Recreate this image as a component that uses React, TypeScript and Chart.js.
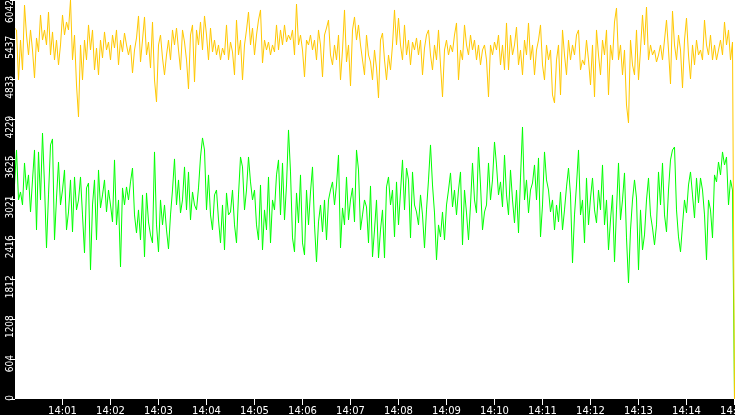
import React, { useEffect, useRef } from 'react';
import { Chart, registerables } from 'chart.js';

Chart.register(...registerables);

// sampling interval of the series (seconds after 14:00:00)
const SAMPLE_SECONDS = 2.5;

const xTickSeconds = [60, 120, 180, 240, 300, 360, 420, 480, 540, 600, 660, 720, 780, 840, 900];
const xTickLabels = ['14:01', '14:02', '14:03', '14:04', '14:05', '14:06', '14:07', '14:08', '14:09', '14:10', '14:11', '14:12', '14:13', '14:14', '14:15'];

const yTickValues = [0, 604.2, 1208.4, 1812.6, 2416.8, 3021, 3625.2, 4229.4, 4833.6, 5437.8, 6042];
const yTickLabels = ['0', '604', '1208', '1812', '2416', '3021', '3625', '4229', '4833', '5437', '6042'];

const yellowValues = [
  5618, 5588, 4831, 5436, 4982, 5966, 5512, 5209, 5588, 5285,
  4861, 5467, 5255, 5815, 5436, 5588, 5361, 5860, 5209, 5558,
  5134, 5436, 5058, 5361, 5815, 5512, 5709, 5588, 6042, 5134,
  5512, 4755, 4271, 5361, 4831, 5436, 5134, 5664, 5285, 5588,
  4982, 5315, 4907, 5436, 5164, 5558, 5285, 5406, 5134, 5512,
  5315, 5588, 5058, 5436, 5255, 5542, 5361, 5209, 5361, 4937,
  5285, 5467, 5800, 5103, 5436, 5785, 5209, 5406, 5012, 5709,
  4831, 4498, 5361, 5512, 5164, 4907, 5209, 5436, 5134, 5588,
  5361, 5618, 5285, 4982, 5588, 5406, 5134, 4695, 5512, 5664,
  4801, 5588, 5361, 5709, 5285, 5800, 5512, 5134, 5618, 5255,
  5436, 5209, 5361, 5134, 5315, 5209, 5664, 5134, 5406, 5255,
  4907, 5739, 5209, 5436, 4831, 5361, 5588, 5860, 5361, 5618,
  5209, 5512, 5739, 5891, 5088, 5436, 5285, 5406, 5209, 5361,
  5255, 5664, 5285, 5588, 5361, 5664, 5406, 5512, 5436, 5588,
  5209, 5981, 5361, 5512, 5285, 4876, 5436, 5361, 5512, 5285,
  5436, 5134, 5588, 5361, 4876, 5512, 5618, 5739, 5209, 5058,
  5361, 5134, 5512, 4831, 5285, 5891, 5103, 5361, 4740, 5588,
  5785, 5436, 5664, 5361, 5134, 4907, 5512, 5209, 5103, 4831,
  5285, 5012, 4558, 5436, 5542, 5134, 4831, 5209, 4982, 5361,
  5891, 5361, 5769, 5361, 5134, 5664, 5209, 5436, 5058, 5406,
  5285, 5467, 5209, 5436, 4907, 5315, 5512, 5588, 5209, 4982,
  5361, 5134, 5588, 5058, 4573, 5285, 5436, 5209, 5361, 5255,
  5512, 5694, 4831, 5285, 5134, 5664, 5361, 5209, 5512, 5285,
  5436, 5134, 5361, 5058, 5285, 5361, 5134, 4573, 5361, 5209,
  5406, 5285, 5512, 5058, 5361, 4982, 5694, 4982, 5512, 5209,
  5361, 5633, 5058, 5285, 4907, 5436, 5209, 5694, 5134, 5361,
  4907, 5285, 5436, 5664, 5058, 4831, 5361, 5134, 5285, 4604,
  4483, 5134, 5361, 4604, 5588, 5209, 4907, 5436, 5134, 5361,
  5209, 5512, 5588, 4982, 5134, 5058, 5436, 5134, 4755, 5361,
  4573, 5588, 5209, 4907, 5436, 5209, 5588, 4604, 5361, 5134,
  5709, 5921, 5134, 5361, 4907, 5285, 4452, 4180, 5436, 5058,
  4907, 5588, 4831, 5285, 5815, 5361, 5936, 5134, 5361, 5209,
  5285, 5103, 5209, 5361, 5134, 5436, 5739, 5285, 4770, 5875,
  5361, 5134, 5512, 5285, 4710, 5436, 5769, 5209, 4846, 5361,
  5058, 5436, 5209, 5285, 5134, 5739, 5361, 5209, 5512, 5134,
  5361, 5134, 5285, 5436, 5209, 5709, 5361, 5588, 5134, 5406,
  0,
];

const greenValues = [
  3241, 3771, 3014, 3135, 2938, 3574, 3165, 3393, 2832, 3317,
  3771, 2560, 3741, 3014, 4028, 3241, 2287, 3090, 3847, 3938,
  2408, 3044, 3589, 2938, 3165, 3468, 2560, 2832, 3317, 2530,
  3362, 2863, 3014, 3362, 2787, 2212, 3196, 3271, 1954, 2938,
  3317, 2408, 3468, 2893, 3090, 3317, 2832, 3165, 2938, 2681,
  3620, 2636, 3014, 2000, 3196, 2938, 3211, 3014, 3287, 3498,
  2787, 2514, 2863, 2408, 3090, 2151, 3120, 2681, 2484, 2363,
  3741, 2636, 2227, 3014, 2636, 2938, 2560, 2272, 2787, 3165,
  3635, 2938, 3317, 2817, 3014, 3514, 2863, 3438, 2711, 3135,
  2938, 2863, 3196, 3665, 3953, 3771, 2863, 3393, 2787, 2560,
  3090, 3165, 2711, 2363, 2938, 2257, 3120, 2787, 2832, 3165,
  2636, 2363, 3090, 3665, 3514, 2863, 3165, 3665, 3287, 3014,
  3165, 2636, 2408, 3241, 2257, 2863, 2560, 3362, 2363, 3014,
  2863, 3393, 3620, 2787, 3574, 2711, 3241, 4074, 3438, 2439,
  2227, 3120, 2666, 3393, 2363, 2181, 3165, 2636, 3135, 3514,
  2636, 2075, 2681, 2938, 2530, 3014, 2408, 3014, 3165, 3287,
  2938, 3241, 3695, 2287, 2893, 2636, 3362, 2711, 3014, 3196,
  2681, 3771, 3468, 2560, 2787, 3014, 2908, 2363, 3226, 2151,
  2560, 3014, 2136, 2560, 2863, 2136, 3211, 3362, 2938, 3165,
  2454, 3287, 2636, 3135, 3620, 2863, 3498, 3317, 2439, 3438,
  2938, 2832, 2636, 3090, 2787, 2287, 2863, 3317, 3847, 3241,
  2817, 2106, 2636, 2454, 2832, 2408, 2938, 3165, 3423, 2908,
  3165, 2787, 3165, 3438, 2333, 3165, 2817, 2408, 2938, 3574,
  3014, 2817, 3816, 3241, 2560, 2832, 2938, 3574, 3014, 3317,
  3892, 3544, 3090, 3287, 2908, 3695, 3090, 2787, 3468, 3014,
  2666, 3165, 2514, 3347, 4119, 3014, 3317, 2817, 3165, 3271,
  3544, 3014, 3650, 2454, 2938, 3741, 3317, 3165, 2832, 3014,
  2560, 2938, 2681, 3135, 2560, 2863, 3211, 3498, 3090, 2060,
  2787, 3241, 3771, 2787, 3014, 2363, 3347, 2636, 3044, 3347,
  2863, 2666, 3165, 2863, 3544, 2636, 3014, 2257, 2711, 3090,
  2075, 2863, 3574, 2711, 3014, 3423, 2439, 1757, 2560, 3014,
  3317, 3044, 1954, 2863, 2257, 2484, 3014, 3347, 2787, 2590,
  2333, 2636, 3438, 2938, 3574, 2787, 2530, 3165, 3620, 3771,
  3816, 2863, 2454, 2227, 2636, 3014, 2817, 3241, 3438, 3090,
  2741, 3347, 2969, 3347, 3165, 2787, 2106, 3014, 2863, 2439,
  3393, 3287, 3589, 3393, 3741, 3544, 3665, 2938, 3317, 3165,
  0,
];

const toPoints = (values: number[]) => values.map((v, i) => ({ x: i * SAMPLE_SECONDS, y: v }));

const Y_LABEL_FONT = "10px 'DejaVu Sans Condensed', 'DejaVu Sans', sans-serif";

const backgroundPlugin = {
  id: 'blackFrame',
  beforeDraw(chart: any) {
    const { ctx, chartArea: a, width, height } = chart;
    ctx.save();
    ctx.fillStyle = '#000000';
    ctx.fillRect(0, 0, width, height);
    ctx.fillStyle = '#ffffff';
    ctx.fillRect(a.left, a.top, a.right - a.left, a.bottom - a.top);
    ctx.restore();
  },
};

// rotated y-axis labels, placed at the y scale's own tick pixels and kept inside the strip
const yLabelPlugin = {
  id: 'yLabels',
  afterDraw(chart: any) {
    const { ctx } = chart;
    const scale = chart.scales.y;
    const limitBottom = chart.chartArea.bottom + 2;
    ctx.save();
    ctx.font = Y_LABEL_FONT;
    ctx.fillStyle = '#ffffff';
    ctx.textAlign = 'left';
    ctx.textBaseline = 'alphabetic';
    yTickValues.forEach((v, i) => {
      const label = yTickLabels[i];
      const py = scale.getPixelForValue(v);
      const w = ctx.measureText(label).width;
      let top = py - 4;
      if (top < 0) top = 0;
      if (top + w > limitBottom) top = limitBottom - w;
      ctx.save();
      ctx.translate(12.6, top + w);
      ctx.rotate(-Math.PI / 2);
      ctx.fillText(label, 0, 0);
      ctx.restore();
    });
    ctx.restore();
  },
};

export default function App() {
  const ref = useRef<HTMLCanvasElement | null>(null);

  useEffect(() => {
    document.body.style.margin = '0';
    const canvas = ref.current;
    if (!canvas) return;
    const chart = new Chart(canvas, {
      type: 'line',
      data: {
        datasets: [
          {
            label: 'yellow',
            data: toPoints(yellowValues),
            borderColor: '#ffc800',
            borderWidth: 1,
            pointRadius: 0,
            tension: 0,
          },
          {
            label: 'green',
            data: toPoints(greenValues),
            borderColor: '#00ff00',
            borderWidth: 1,
            pointRadius: 0,
            tension: 0,
          },
        ],
      },
      options: {
        animation: false,
        responsive: false,
        devicePixelRatio: 1,
        maintainAspectRatio: false,
        layout: { padding: 0 },
        plugins: {
          legend: { display: false },
          tooltip: { enabled: false },
        },
        scales: {
          x: {
            type: 'linear',
            position: 'bottom',
            min: 0.625,
            max: 900.625,
            bounds: 'data',
            afterBuildTicks: (s: any) => {
              s.ticks = xTickSeconds.map((v) => ({ value: v }));
            },
            afterFit: (s: any) => {
              s.height = 16;
              s.paddingLeft = 0;
              s.paddingRight = 0;
            },
            grid: {
              display: true,
              drawOnChartArea: false,
              drawTicks: true,
              tickLength: 6,
              color: '#ffffff',
              lineWidth: 1,
            },
            border: { display: false },
            ticks: {
              color: '#ffffff',
              font: { family: "'DejaVu Sans'", size: 10 },
              padding: 0,
              autoSkip: false,
              minRotation: 0,
              maxRotation: 0,
              callback: (_v: any, i: number) => xTickLabels[i] ?? '',
            },
          },
          y: {
            type: 'linear',
            position: 'left',
            min: 0,
            max: 6042,
            bounds: 'data',
            afterBuildTicks: (s: any) => {
              s.ticks = yTickValues.map((v) => ({ value: v }));
            },
            afterFit: (s: any) => {
              s.width = 15;
              s.paddingTop = 0;
              s.paddingBottom = 0;
            },
            grid: {
              display: true,
              drawOnChartArea: false,
              drawTicks: true,
              tickLength: 5,
              color: '#ffffff',
              lineWidth: 1,
            },
            border: { display: false },
            ticks: {
              display: false,
              autoSkip: false,
              callback: (_v: any, i: number) => yTickLabels[i] ?? '',
            },
          },
        },
      },
      plugins: [backgroundPlugin, yLabelPlugin],
    } as any);
    return () => chart.destroy();
  }, []);

  return (
    <div style={{ position: 'fixed', left: 0, top: 0, width: 735, height: 415, overflow: 'hidden', background: '#000' }}>
      <canvas ref={ref} width={735} height={415} style={{ display: 'block', width: 735, height: 415 }} />
    </div>
  );
}
